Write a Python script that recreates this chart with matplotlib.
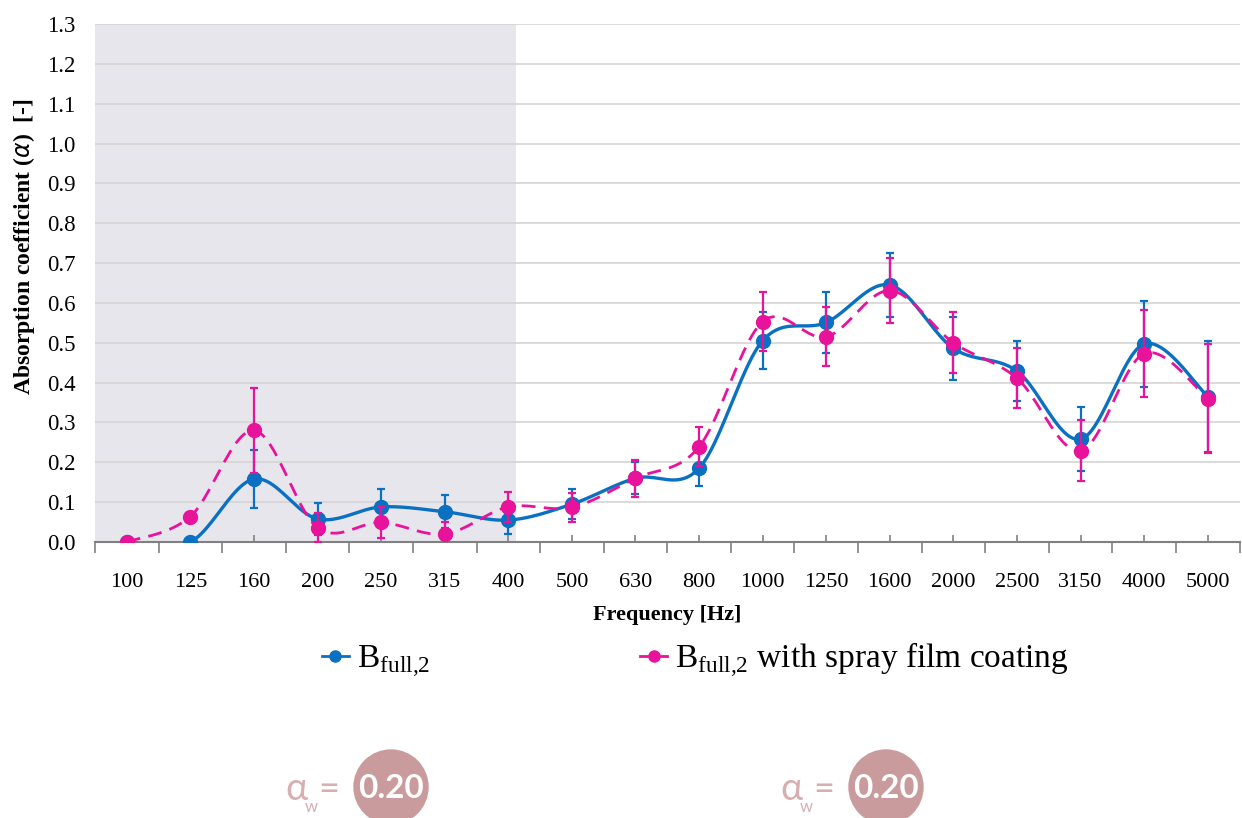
import numpy as np
import matplotlib.pyplot as plt
from matplotlib.patches import Ellipse

plt.rcParams['font.family'] = ['Liberation Serif', 'DejaVu Serif']
plt.rcParams['mathtext.fontset'] = 'custom'
plt.rcParams['mathtext.rm'] = 'Liberation Serif'

freqs = ['100', '125', '160', '200', '250', '315', '400', '500', '630', '800',
         '1000', '1250', '1600', '2000', '2500', '3150', '4000', '5000']

# B_full,2
blue = [0.0, 0.0, 0.158, 0.058, 0.088, 0.076, 0.055, 0.095, 0.160, 0.185,
        0.505, 0.551, 0.645, 0.486, 0.429, 0.258, 0.497, 0.365]
blue_err = [0.0, 0.0, 0.073, 0.041, 0.045, 0.042, 0.036, 0.037, 0.040, 0.045,
            0.072, 0.076, 0.080, 0.079, 0.076, 0.080, 0.107, 0.139]

# B_full,2 with spray film coating
pink = [0.0, 0.064, 0.280, 0.036, 0.049, 0.020, 0.088, 0.087, 0.160, 0.239,
        0.553, 0.515, 0.631, 0.500, 0.411, 0.229, 0.473, 0.360]
pink_err = [0.0, 0.0, 0.106, 0.036, 0.038, 0.031, 0.038, 0.037, 0.046, 0.049,
            0.074, 0.074, 0.081, 0.077, 0.075, 0.077, 0.109, 0.137]

alpha_w = ['0.20', '0.20']

BLUE = '#0a70c2'
PINK = '#e8129b'


def smooth(y, n=24):
    """Catmull-Rom curve through the points, like excel's smoothed line."""
    y = np.asarray(y, dtype=float)
    x = np.arange(len(y), dtype=float)
    P = np.column_stack([x, y])
    P = np.vstack([P[0], P, P[-1]])
    out = []
    t = np.linspace(0, 1, n, endpoint=False)[:, None]
    for i in range(1, len(P) - 2):
        p0, p1, p2, p3 = P[i - 1], P[i], P[i + 1], P[i + 2]
        seg = 0.5 * ((2 * p1) + (-p0 + p2) * t + (2 * p0 - 5 * p1 + 4 * p2 - p3) * t ** 2
                     + (-p0 + 3 * p1 - 3 * p2 + p3) * t ** 3)
        out.append(seg)
    out.append(P[-2][None, :])
    out = np.vstack(out)
    return out[:, 0], out[:, 1]


fig = plt.figure(figsize=(12.42, 8.18), dpi=100)
ax = fig.add_axes([0.0765, 0.3374, 0.9215, 0.6333])

x = np.arange(len(freqs))
ax.axvspan(-0.5, 6.12, color='#e7e6ec', zorder=0, lw=0)

for v in np.arange(0.1, 1.31, 0.1):
    ax.axhline(v, color='#d4d4d4', lw=1.2, zorder=1)

sx, sy = smooth(blue)
ax.plot(sx, sy, color=BLUE, lw=2.4, zorder=3)
ax.errorbar(x[2:], blue[2:], yerr=blue_err[2:], fmt='none', ecolor=BLUE,
            elinewidth=1.6, capsize=3, capthick=1.6, zorder=3)
ax.plot(x, blue, 'o', color=BLUE, ms=10, zorder=4)

sx, sy = smooth(pink)
ax.plot(sx, sy, color=PINK, lw=2.0, ls=(0, (5, 3)), zorder=5)
ax.errorbar(x[2:], pink[2:], yerr=pink_err[2:], fmt='none', ecolor=PINK,
            elinewidth=1.6, capsize=3, capthick=1.6, zorder=5)
ax.plot(x, pink, 'o', color=PINK, ms=10, zorder=6)

ax.set_xlim(-0.5, 17.5)
ax.set_ylim(0, 1.3)
ax.set_yticks(np.arange(0, 1.31, 0.1))
ax.set_yticklabels([f'{v:.1f}' for v in np.arange(0, 1.31, 0.1)], fontsize=16.5)
ax.tick_params(axis='y', length=0, pad=14)

ax.set_xticks(np.arange(-0.5, 18, 1))
ax.set_xticklabels([])
ax.set_xticks(x, minor=True)
ax.set_xticklabels(freqs, minor=True, fontsize=16)
ax.tick_params(axis='x', which='major', direction='out', length=8, color='#808080', width=1.2)
ax.tick_params(axis='x', which='minor', direction='in', length=5, color='#808080', width=1.2, pad=22)

for s in ['top', 'right', 'left']:
    ax.spines[s].set_visible(False)
ax.spines['bottom'].set_color('#808080')
ax.spines['bottom'].set_linewidth(1.5)

ax.set_xlabel('Frequency [Hz]', fontsize=16, fontweight='bold', labelpad=10)
ax.set_ylabel(r'Absorption coefficient ($\alpha$)  [-]', fontsize=17, fontweight='bold')
ax.yaxis.set_label_coords(-0.051, 0.57)

h1, = ax.plot([], [], '-o', color=BLUE, lw=2, ms=8)
h2, = ax.plot([], [], '-o', color=PINK, lw=2, ms=8)
fig.legend([h1, h2], [r'B$_{\rm full{,}2}$', r'B$_{\rm full{,}2}$ with spray film coating'],
           loc='center', bbox_to_anchor=(0.56, 0.193), ncol=2, frameon=False,
           fontsize=24, handlelength=0.8, handletextpad=0.25, columnspacing=6.3)

# weighted absorption coefficient badges
for cx, val in zip([391, 886], alpha_w):
    fig.patches.append(Ellipse((cx / 1242, 1 - 787 / 818), 74 / 1242, 74 / 818,
                               transform=fig.transFigure, color='#c99b9d', zorder=1))
    fig.text(cx / 1242, 1 - 789 / 818, val, color='white', fontsize=24, fontweight='bold',
             family='Lato', ha='center', va='center')
    fig.text((cx - 106) / 1242, 1 - 789 / 818, 'α', color='#d9aeb0', fontsize=27,
             family='Lato', ha='left', va='center')
    fig.text((cx - 86) / 1242, 1 - 807 / 818, 'w', color='#d9aeb0', fontsize=12,
             family='Lato', ha='left', va='center')
    fig.text((cx - 73) / 1242, 1 - 789 / 818, '=', color='#d9aeb0', fontsize=26,
             family='Lato', ha='left', va='center')

fig.savefig('out.png', dpi=100)
